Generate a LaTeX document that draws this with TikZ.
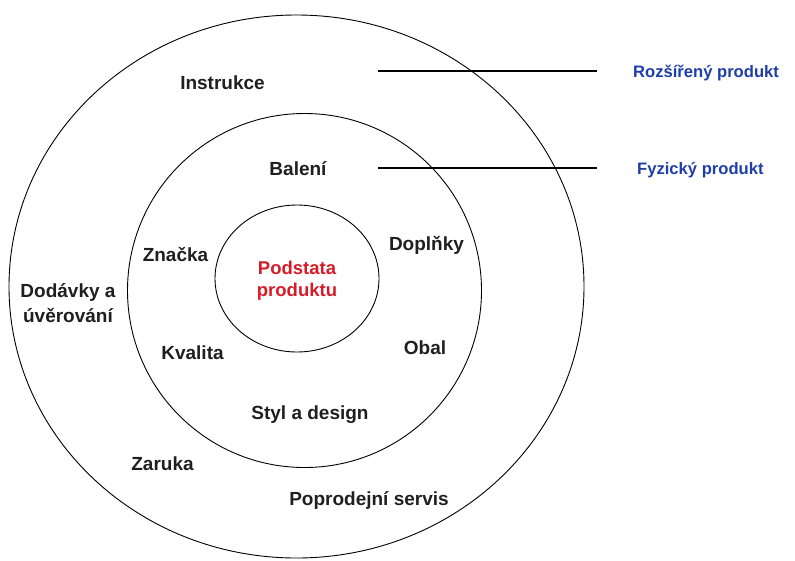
\documentclass[tikz,border=0pt]{standalone}
\usepackage{fontspec}
\setmainfont{Liberation Sans}
\usepackage{xcolor}
\definecolor{vrstva}{RGB}{30,62,168}
\definecolor{jadro}{RGB}{214,28,40}

\begin{document}
\begin{tikzpicture}[x=1pt,y=-1pt]
	\tikzstyle{every node}+=[inner sep=0pt, anchor=base, align=center]
	\tikzstyle{popis}=[font=\fontsize{19}{25}\selectfont\bfseries, text=black!88]
	\tikzstyle{jadro}=[font=\fontsize{18.5}{22}\selectfont\bfseries, text=jadro]
	\tikzstyle{vrstva}=[font=\fontsize{16.6}{20}\selectfont\bfseries, text=vrstva, anchor=base west]
	\useasboundingbox (0,0) rectangle (795,560);
	\draw [black, line width=0.9pt] (296.5,286.5) ellipse [x radius=287.5, y radius=271.5];
	\draw [black, line width=0.9pt] (304.5,290.5) circle (177);
	\draw [black, line width=0.9pt] (297,278.5) ellipse [x radius=82, y radius=73.5];
	\node [jadro] (podstata) at (297,296) {Podstata\\produktu};
	\node [popis] (instrukce) at (222.5,89) {Instrukce};
	\node [popis] (baleni) at (298,175) {Balení};
	\node [popis] (znacka) at (175.5,261) {Značka};
	\node [popis] (doplnky) at (426.5,250) {Doplňky};
	\node [popis] (dodavky) at (68,322) {Dodávky a\\úvěrování};
	\node [popis] (kvalita) at (192.5,359) {Kvalita};
	\node [popis] (obal) at (425,354) {Obal};
	\node [popis] (styl) at (310,419) {Styl a design};
	\node [popis] (zaruka) at (162.5,470) {Zaruka};
	\node [popis] (servis) at (369,505) {Poprodejní servis};
	\node [vrstva] (rozsireny) at (633,77) {Rozšířený produkt};
	\node [vrstva] (fyzicky) at (637,174) {Fyzický produkt};
	\coordinate (r0) at (378,71);
	\coordinate (r1) at (597,71);
	\coordinate (f0) at (378,168);
	\coordinate (f1) at (597,168);
	\draw [black, line width=1.1pt] (r0) -- (r1);
	\draw [black, line width=1.1pt] (f0) -- (f1);
\end{tikzpicture}
\end{document}
